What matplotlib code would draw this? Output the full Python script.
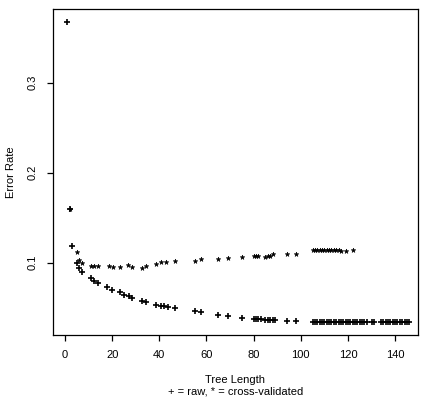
import matplotlib
matplotlib.use("Agg")
import matplotlib.pyplot as plt

plt.rcParams["font.family"] = ["Liberation Sans", "DejaVu Sans"]

# raw error rate by tree length (+)
raw_len = [1, 2, 3, 5, 6, 7, 11, 12.5, 14, 18, 20, 23.5, 25, 27, 28.5, 32.5, 34.5,
           38.5, 40.5, 42, 43.5, 46.5, 55, 57.5, 65, 69, 75, 80, 81, 82, 83,
           85, 86, 87, 88, 89, 94, 98] + list(range(105, 129)) + [130, 131] + list(range(134, 147))
raw_err = [0.367, 0.160, 0.118, 0.100, 0.094, 0.0896, 0.083, 0.080, 0.0774, 0.0726,
           0.070, 0.067, 0.0644, 0.0626, 0.0608, 0.0578, 0.0563, 0.0533, 0.052, 0.0515,
           0.0508, 0.049, 0.046, 0.045, 0.042, 0.0404, 0.0386, 0.0378, 0.0378, 0.0378,
           0.0374, 0.0367, 0.0367, 0.0367, 0.0367, 0.0367, 0.0345, 0.0345] + [0.034] * 39

# cross-validated error rate (*)
cv_len = [2, 5, 6, 7, 11, 12.5, 14, 18.5, 20.5, 23.5, 26.5, 28.5, 32.5, 34.5, 38.5,
          40.5, 43, 46.5, 55, 57.5, 65, 69, 75, 80, 81, 82, 85, 86, 87, 88, 94, 98] \
         + list(range(105, 117)) + [117, 119, 122]
cv_err = [0.160, 0.112, 0.103, 0.100, 0.0967, 0.0967, 0.0967, 0.0965, 0.095, 0.0952,
          0.097, 0.0952, 0.094, 0.096, 0.0986, 0.1003, 0.1003, 0.1015, 0.1015, 0.1044,
          0.1044, 0.105, 0.1067, 0.1078, 0.1078, 0.1078, 0.106, 0.107, 0.1075, 0.109,
          0.110, 0.110] + [0.1144] * 12 + [0.113, 0.113, 0.114]

x_ticks = [0, 20, 40, 60, 80, 100, 120, 140]
y_ticks = [0.1, 0.2, 0.3]

fig = plt.figure(figsize=(4.25, 4.18), dpi=100)
ax = fig.add_axes([0.1247, 0.1986, 0.8588, 0.7799])

ax.plot(raw_len, raw_err, ls="none", marker="+", ms=5, mew=1.2, color="black")
ax.plot(cv_len, cv_err, ls="none", marker="*", ms=3.5, mew=0.4, color="black")

ax.set_xlim(-5.1, 149.7)
ax.set_ylim(0.0195, 0.382)
ax.set_xticks(x_ticks)
ax.set_yticks(y_ticks)
ax.set_yticklabels(["0.1", "0.2", "0.3"], rotation=90, va="center")
ax.tick_params(direction="out", length=4.3, width=0.9, labelsize=8, pad=6.5)
for s in ax.spines.values():
    s.set_linewidth(0.9)

ax.set_xlabel("Tree Length\n+ = raw, * = cross-validated", fontsize=8,
              linespacing=1.15, labelpad=11)
ax.set_ylabel("Error Rate", fontsize=8)
ax.yaxis.set_label_coords(-0.1, 0.5)

fig.savefig("out.png", dpi=100)
